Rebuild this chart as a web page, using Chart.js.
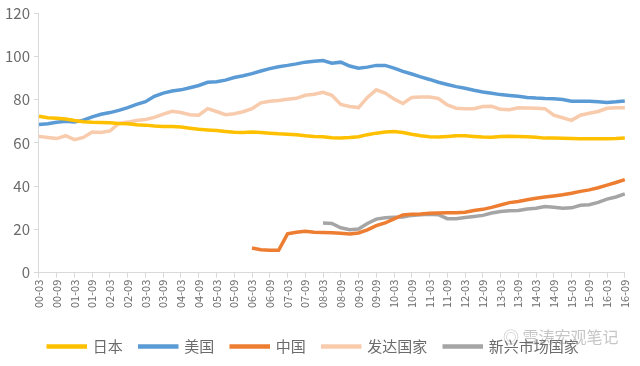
<!DOCTYPE html>
<html>
<head>
<meta charset="utf-8">
<script src="https://cdn.jsdelivr.net/npm/chart.js@4.4.1/dist/chart.umd.min.js"></script>
<style>
  html, body { margin: 0; padding: 0; background: #fff; }
  #wrap { position: relative; width: 640px; height: 366px; }
  #mark {
    position: absolute; left: 503px; top: 324px;
    font-family: 'Noto Sans CJK SC', sans-serif; font-size: 16px;
    color: rgba(150,150,150,0.55); pointer-events: none;
  }
</style>
</head>
<body>
<div id="wrap">
  <canvas id="chart" width="640" height="366"></canvas>
  <div id="mark">◎ 雪涛宏观笔记</div>
</div>
<script>
// quarterly labels, 2000Q1 .. 2016Q3
const quarters = [
  '00-03','00-06','00-09','00-12','01-03','01-06','01-09','01-12',
  '02-03','02-06','02-09','02-12','03-03','03-06','03-09','03-12',
  '04-03','04-06','04-09','04-12','05-03','05-06','05-09','05-12',
  '06-03','06-06','06-09','06-12','07-03','07-06','07-09','07-12',
  '08-03','08-06','08-09','08-12','09-03','09-06','09-09','09-12',
  '10-03','10-06','10-09','10-12','11-03','11-06','11-09','11-12',
  '12-03','12-06','12-09','12-12','13-03','13-06','13-09','13-12',
  '14-03','14-06','14-09','14-12','15-03','15-06','15-09','15-12',
  '16-03','16-06','16-09'
];

const japan = [
  72.3, 71.6, 71.4, 71.0, 70.3, 69.8, 69.5, 69.4, 69.3, 69.0,
  68.8, 68.4, 68.2, 67.8, 67.6, 67.6, 67.3, 66.8, 66.3, 66.0,
  65.7, 65.3, 64.9, 64.8, 65.0, 64.8, 64.5, 64.2, 64.0, 63.8,
  63.3, 63.0, 62.8, 62.4, 62.3, 62.5, 62.8, 63.8, 64.5, 65.0,
  65.3, 64.8, 64.0, 63.3, 62.8, 62.7, 63.0, 63.3, 63.3, 63.0,
  62.7, 62.6, 62.9, 63.1, 63.0, 62.8, 62.6, 62.2, 62.2, 62.1,
  62.0, 61.9, 61.9, 61.9, 61.9, 62.0, 62.3
];

const usa = [
  68.5, 68.8, 69.5, 70.0, 69.6, 70.5, 72.0, 73.2, 74.0, 75.0,
  76.3, 77.8, 79.0, 81.5, 83.0, 84.0, 84.5, 85.5, 86.5, 88.0,
  88.2, 89.0, 90.2, 91.0, 92.0, 93.2, 94.3, 95.2, 95.8, 96.5,
  97.3, 97.7, 98.0, 96.8, 97.3, 95.5, 94.5, 95.0, 95.8, 95.8,
  94.5, 93.0, 91.8, 90.5, 89.3, 88.0, 87.0, 86.0, 85.2, 84.3,
  83.5, 82.9, 82.3, 81.9, 81.5, 81.0, 80.7, 80.5, 80.4, 80.0,
  79.2, 79.2, 79.2, 79.0, 78.7, 79.0, 79.4
];

const china = [
  null, null, null, null, null, null, null, null, null, null,
  null, null, null, null, null, null, null, null, null, null,
  null, null, null, null, 11.4, 10.6, 10.4, 10.4, 18.0, 18.7,
  19.2, 18.7, 18.6, 18.5, 18.3, 17.9, 18.4, 19.8, 21.8, 23.0,
  24.9, 26.7, 27.0, 27.2, 27.5, 27.6, 27.7, 27.7, 28.0, 28.8,
  29.3, 30.2, 31.3, 32.4, 32.9, 33.7, 34.4, 35.0, 35.5, 36.0,
  36.7, 37.6, 38.3, 39.3, 40.5, 41.7, 43.0
];

const developed = [
  63.0, 62.5, 62.0, 63.3, 61.5, 62.5, 65.0, 64.8, 65.5, 69.0,
  69.6, 70.3, 70.8, 71.8, 73.3, 74.6, 74.0, 73.0, 72.8, 75.8,
  74.5, 73.0, 73.5, 74.4, 75.8, 78.5, 79.2, 79.6, 80.2, 80.6,
  82.0, 82.5, 83.4, 82.0, 77.8, 76.8, 76.3, 81.0, 84.5, 83.0,
  80.3, 78.2, 81.0, 81.2, 81.2, 80.5, 77.5, 76.0, 75.8, 75.8,
  76.8, 76.9, 75.5, 75.3, 76.2, 76.1, 76.0, 75.8, 72.8, 71.6,
  70.4, 72.8, 73.7, 74.5, 76.0, 76.2, 76.2
];

const emerging = [
  null, null, null, null, null, null, null, null, null, null,
  null, null, null, null, null, null, null, null, null, null,
  null, null, null, null, null, null, null, null, null, null,
  null, null, 23.0, 22.8, 20.8, 19.9, 20.2, 22.8, 24.8, 25.4,
  25.6, 25.8, 26.5, 26.8, 27.0, 26.8, 25.0, 25.0, 25.5, 26.0,
  26.5, 27.6, 28.3, 28.6, 28.8, 29.5, 29.8, 30.6, 30.3, 29.8,
  30.0, 31.2, 31.4, 32.5, 34.0, 35.0, 36.4
];

const fontFamily = "'Noto Sans CJK SC', 'Noto Sans', sans-serif";
const textColor = '#6b6b6b';
const axisColor = '#d9d9d9';

const makeLine = function(label, data, color){
    return {
        label: label,
        data: data,
        borderColor: color,
        backgroundColor: color,
        borderWidth: 3.5,
        pointRadius: 0,
        tension: 0,
        spanGaps: false
    };
};

const config = {
    type: 'line',
    data: {
        labels: quarters,
        datasets: [
            makeLine('日本', japan, '#ffc000'),
            makeLine('美国', usa, '#5b9bd5'),
            makeLine('中国', china, '#ed7d31'),
            makeLine('发达国家', developed, '#f8cbad'),
            makeLine('新兴市场国家', emerging, '#a5a5a5')
        ]
    },
    options: {
        responsive: false,
        animation: false,
        layout: { padding: { left: 1, right: 14, top: 6, bottom: 2 } },
        plugins: {
            legend: {
                position: 'bottom',
                labels: {
                    boxWidth: 37,
                    boxHeight: 1,
                    padding: 17,
                    color: textColor,
                    font: { family: fontFamily, size: 15 }
                }
            },
            tooltip: { enabled: false }
        },
        scales: {
            x: {
                offset: false,
                border: { color: axisColor },
                grid: {
                    drawOnChartArea: false,
                    tickLength: 5,
                    color: ctx => (ctx.index % 2 === 0 ? axisColor : 'rgba(0,0,0,0)')
                },
                ticks: {
                    autoSkip: false,
                    minRotation: 90,
                    maxRotation: 90,
                    padding: 2,
                    color: textColor,
                    font: { family: fontFamily, size: 11 },
                    callback: function(value, index){
                        return index % 2 === 0 ? this.getLabelForValue(value) : '';
                    }
                },
                afterFit: function(scale){
                    // leave room between the date labels and the legend
                    scale.height += 12;
                }
            },
            y: {
                min: 0,
                max: 120,
                border: { color: axisColor },
                grid: {
                    drawOnChartArea: false,
                    tickLength: 5,
                    color: axisColor
                },
                ticks: {
                    stepSize: 20,
                    padding: 4,
                    color: textColor,
                    font: { family: fontFamily, size: 15 }
                }
            }
        }
    }
};

new Chart(document.getElementById('chart'), config);
</script>
</body>
</html>
